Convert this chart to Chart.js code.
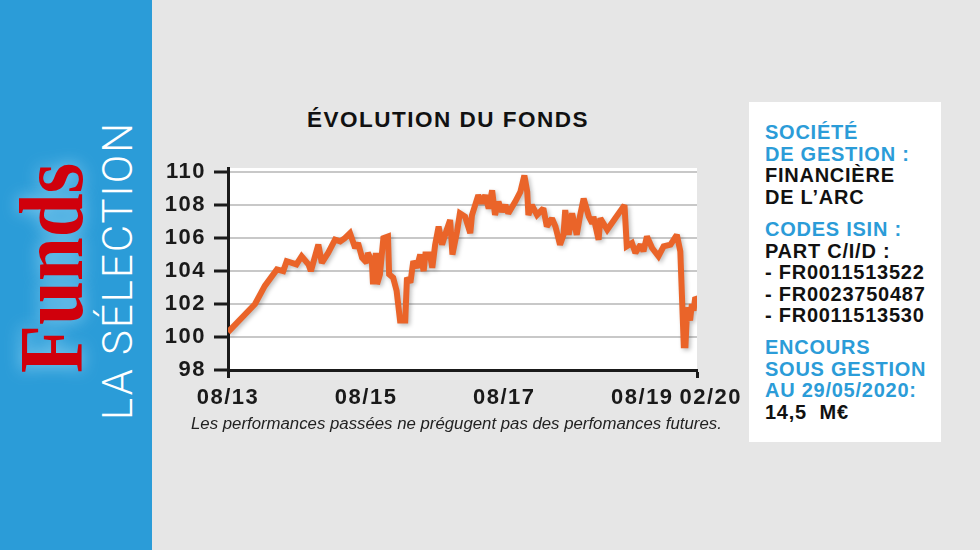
<!DOCTYPE html>
<html lang="fr">
<head>
<meta charset="UTF-8">
<title>Évolution du fonds</title>
<script src="https://cdn.jsdelivr.net/npm/chart.js@4.4.1/dist/chart.umd.min.js"></script>
<style>
  html, body { margin: 0; padding: 0; }
  body { width: 980px; height: 550px; background: #e6e6e6; position: relative; overflow: hidden;
         font-family: "Liberation Sans", Arial, sans-serif; }
  #side { position: absolute; left: 0; top: 0; width: 152px; height: 550px; background: #2b9cd8; }
  .rot { position: absolute; white-space: nowrap; line-height: 1; transform-origin: 0 0; }
  #funds { left: 7px; top: 373px; font-family: "Liberation Serif", serif; font-weight: bold; font-size: 90px;
           color: #d0000c; transform: rotate(-90deg) scaleX(0.875);
           text-shadow: 0 0 18px rgba(150, 215, 245, 0.9); }
  #selection { left: 97px; top: 420px; font-family: Roboto, sans-serif; font-weight: 300; font-size: 42px;
               letter-spacing: 2px; color: #fff; transform: rotate(-90deg); }
  #title { position: absolute; left: 248px; top: 109px; width: 400px; text-align: center; font-weight: bold;
           font-size: 22.5px; line-height: 1; letter-spacing: 1.5px; color: #111; white-space: nowrap; }
  #chartBox { position: absolute; left: 146px; top: 150px; }
  #note { position: absolute; left: 191px; top: 416px; font-style: italic; font-size: 16.8px; line-height: 1; color: #222; white-space: nowrap; }
  #panel { position: absolute; left: 749px; top: 102px; width: 192px; height: 340px; background: #fff; }
  .grp { position: absolute; left: 16px; font-weight: bold; font-size: 20px; line-height: 21.5px;
         letter-spacing: 0.75px; color: #111; white-space: nowrap; }
  .blue { color: #2b9cd8; }
</style>
</head>
<body>
<div id="side">
  <div class="rot" id="funds">Funds</div>
  <div class="rot" id="selection">LA SÉLECTION</div>
</div>

<div id="title">ÉVOLUTION DU FONDS</div>
<div id="chartBox"><canvas id="fundChart" width="604" height="270"></canvas></div>
<div id="note">Les performances passées ne prégugent pas des perfomances futures.</div>

<div id="panel">
  <div class="grp" style="top:20px"><span class="blue">SOCIÉTÉ<br>DE GESTION :</span><br>FINANCIÈRE<br>DE L’ARC</div>
  <div class="grp" style="top:117px"><span class="blue">CODES ISIN :</span><br>PART C/I/D :<br>- FR0011513522<br>- FR0023750487<br>- FR0011513530</div>
  <div class="grp" style="top:235px"><span class="blue">ENCOURS<br>SOUS GESTION<br>AU 29/05/2020:</span><br>14,5&nbsp; M€</div>
</div>

<script>
// months since 08/2013 and fund value (base 100)
const monthOffsets = [0, 4.7, 6.4, 8.5, 9.6, 10.2, 11.9, 12.8, 14.0, 14.4, 15.7, 16.3, 17.4, 18.6, 19.5, 20.3,
  21.2, 22.1, 22.6, 23.3, 24.1, 24.3, 25.0, 25.2, 25.7, 25.9, 26.4, 27.0, 27.8, 28.0, 28.7, 29.3, 29.9, 30.8,
  31.1, 31.7, 32.2, 32.8, 33.4, 34.0, 34.3, 35.1, 35.5, 36.0, 36.6, 37.2, 38.0, 38.6, 39.0, 39.8, 40.3, 41.2,
  42.1, 42.4, 43.5, 44.1, 44.7, 45.3, 45.9, 46.4, 47.0, 47.6, 48.2, 48.7, 49.9, 50.8, 51.5, 52.0, 52.2, 52.8,
  53.7, 54.8, 55.4, 56.3, 56.9, 57.7, 58.3, 58.6, 59.2, 59.8, 60.6, 61.2, 61.8, 62.7, 63.3, 63.5, 64.4, 64.7,
  65.9, 67.3, 68.9, 69.3, 70.2, 70.8, 71.7, 72.2, 72.8, 73.7, 74.8, 75.7, 76.9, 78.0, 78.6, 79.2, 79.5, 79.8,
  80.3, 80.6, 80.9, 81.2, 81.5];
const fundValues = [100.3, 102.0, 103.1, 104.1, 104.0, 104.6, 104.4, 104.9, 104.4, 104.0, 105.6, 104.5, 105.1,
  105.9, 105.8, 106.0, 106.3, 105.4, 105.7, 104.8, 104.5, 105.1, 104.6, 103.2, 105.1, 103.2, 103.8, 106.0,
  106.1, 103.8, 103.6, 102.8, 101.0, 101.0, 103.6, 103.3, 104.6, 104.2, 105.0, 104.0, 105.0, 105.0, 104.2,
  105.6, 106.7, 105.6, 106.5, 107.1, 105.0, 106.4, 107.5, 107.3, 106.3, 107.4, 108.6, 108.1, 108.6, 107.8,
  108.9, 107.4, 108.2, 107.6, 108.0, 107.5, 108.2, 108.8, 109.8, 108.8, 107.4, 108.0, 107.4, 107.8, 106.7,
  107.2, 106.7, 105.6, 106.2, 107.7, 106.2, 107.5, 106.2, 107.4, 108.4, 107.3, 106.9, 107.3, 105.9, 107.2,
  106.5, 107.2, 108.0, 105.5, 105.7, 105.1, 105.6, 105.2, 106.1, 105.4, 104.9, 105.5, 105.6, 106.2, 105.2,
  99.5, 99.5, 101.8, 101.0, 102.0, 101.6, 102.4, 102.3];

const xTickMonths = [0, 24, 48, 72, 81.5];
const xTickLabels = ['08/13', '08/15', '08/17', '08/19', '02/20'];
const yTickValues = [98, 100, 102, 104, 106, 108, 110];

const points = monthOffsets.map((m, i) => ({ x: m, y: fundValues[i] }));
const ink = '#1a1a1a';
const tickFont = { family: 'Liberation Sans', weight: 'bold', size: 22 };

// white plot area + slightly wider lettering, like the printed chart
const plotBg = {
  id: 'plotBg',
  beforeDraw(chart) {
    const { ctx, chartArea: a } = chart;
    ctx.letterSpacing = '1.5px';
    ctx.save();
    ctx.fillStyle = '#fff';
    ctx.fillRect(a.left, a.top, a.right - a.left, a.bottom - a.top);
    ctx.restore();
  }
};
const lineShadow = {
  id: 'lineShadow',
  beforeDatasetsDraw(chart) {
    const ctx = chart.ctx;
    ctx.save();
    ctx.miterLimit = 2;
    ctx.shadowColor = 'rgba(0,0,0,0.25)';
    ctx.shadowBlur = 4;
    ctx.shadowOffsetX = 2;
    ctx.shadowOffsetY = 2;
  },
  afterDatasetsDraw(chart) { chart.ctx.restore(); }
};

new Chart(document.getElementById('fundChart'), {
  type: 'line',
  data: {
    datasets: [{
      data: points,
      borderColor: '#ea6429',
      borderWidth: 6,
      borderJoinStyle: 'miter',
      pointRadius: 0,
      tension: 0,
      fill: false
    }]
  },
  options: {
    responsive: false,
    animation: false,
    layout: { padding: { left: 0, right: 53, top: 18, bottom: 0 } },
    plugins: {
      legend: { display: false },
      tooltip: { enabled: false }
    },
    scales: {
      x: {
        type: 'linear',
        min: 0,
        max: 81.5,
        afterBuildTicks(scale) { scale.ticks = xTickMonths.map(v => ({ value: v })); },
        afterFit(scale) { scale.height = 50; scale.paddingLeft = 0; scale.paddingRight = 0; },
        border: { display: true, color: ink, width: 3 },
        grid: {
          drawOnChartArea: false,
          tickLength: 8,
          tickWidth: 3,
          tickColor: c => (c.index === 0 || c.index === xTickMonths.length - 1) ? ink : 'rgba(0,0,0,0)'
        },
        ticks: {
          autoSkip: false,
          maxRotation: 0,
          minRotation: 0,
          padding: 7,
          color: ink,
          font: tickFont,
          // last label sits just right of the axis end, as in the print
          callback: (v, i) => i === xTickLabels.length - 1 ? '\u2007\u2007' + xTickLabels[i] : xTickLabels[i]
        }
      },
      y: {
        min: 98,
        max: 110.25,
        afterBuildTicks(scale) { scale.ticks = yTickValues.map(v => ({ value: v })); },
        afterFit(scale) { scale.width = 82; scale.paddingTop = 0; scale.paddingBottom = 0; },
        border: { display: true, color: ink, width: 3 },
        grid: {
          color: '#c8c8c8',
          lineWidth: 2,
          tickLength: 14,
          tickWidth: 3,
          tickColor: ink
        },
        ticks: {
          padding: 8,
          color: ink,
          font: tickFont,
          callback: v => String(v)
        }
      }
    }
  },
  plugins: [plotBg, lineShadow]
});
</script>
</body>
</html>
